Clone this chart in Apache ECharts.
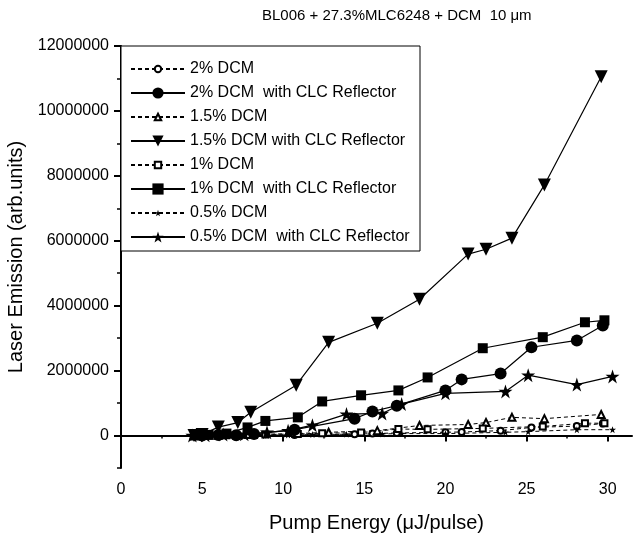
<!DOCTYPE html>
<html>
<head>
<meta charset="utf-8">
<script src="https://cdn.jsdelivr.net/npm/echarts@6/dist/echarts.min.js"></script>
<style>html,body{margin:0;padding:0;background:#fff}#c{width:639px;height:534px}</style>
</head>
<body>
<div id="c"></div>
<script>
// ---- data ----
const titleText = 'BL006 + 27.3%MLC6248 + DCM  10 \u03bcm';
const xName = 'Pump Energy (\u03bcJ/pulse)';
const yName = 'Laser Emission (arb.units)';
const xTickValues = [0, 5, 10, 15, 20, 25, 30];
const xMinorTickValues = [2.5, 7.5, 12.5, 17.5, 22.5, 27.5];
const yTickValues = [0, 2000000, 4000000, 6000000, 8000000, 10000000, 12000000];
const yMinorTickValues = [-1000000, 1000000, 3000000, 5000000, 7000000, 9000000, 11000000];

const names = ['2% DCM', '2% DCM  with CLC Reflector', '1.5% DCM', '1.5% DCM with CLC Reflector',
  '1% DCM', '1% DCM  with CLC Reflector', '0.5% DCM', '0.5% DCM  with CLC Reflector'];

// 2% DCM
const x2 = [5.0, 6.0, 7.1, 8.2, 10.7, 14.4, 15.5, 17.0, 20.0, 21.0, 23.4, 25.3, 28.1, 29.7];
const y2 = [0, 0, 10000, 10000, 20000, 40000, 60000, 80000, 100000, 110000, 150000, 250000, 290000, 370000];
const y2clc = [0, 20000, 10000, 50000, 180000, 520000, 740000, 920000, 1390000, 1730000, 1910000, 2720000, 2930000, 3390000];
// 1.5% DCM
const x15 = [4.5, 5.0, 6.0, 7.2, 8.0, 10.8, 12.8, 15.8, 18.4, 21.4, 22.5, 24.1, 26.1, 29.6];
const y15 = [0, 0, 10000, 20000, 30000, 60000, 100000, 150000, 310000, 340000, 400000, 560000, 520000, 650000];
const y15clc = [0, 30000, 260000, 400000, 720000, 1550000, 2870000, 3460000, 4200000, 5590000, 5740000, 6080000, 7720000, 11050000];
// 1% DCM
const x1 = [4.6, 5.4, 6.5, 7.8, 8.9, 10.9, 12.4, 14.8, 17.1, 18.9, 22.3, 26.0, 28.6, 29.8];
const y1 = [0, 0, 10000, 20000, 30000, 50000, 70000, 90000, 200000, 190000, 220000, 280000, 380000, 380000];
const y1clc = [0, 20000, 60000, 250000, 450000, 560000, 1050000, 1240000, 1390000, 1790000, 2690000, 3030000, 3490000, 3550000];
// 0.5% DCM
const x05 = [4.4, 5.2, 6.3, 7.6, 9.0, 10.3, 11.8, 13.9, 16.1, 17.3, 20.0, 23.7, 25.1, 28.1, 30.3];
const y05 = [0, 0, 0, 10000, 10000, 20000, 30000, 40000, 50000, 60000, 60000, 100000, 120000, 180000, 180000];
const y05clc = [0, 10000, 30000, 40000, 100000, 150000, 320000, 660000, 680000, 970000, 1300000, 1360000, 1860000, 1570000, 1820000];

// ---- chart ----
const FONT = 'Liberation Sans, Arial, sans-serif';
const STAR = 'path://M50,0 L61.8,35.3 L99,35.3 L69,57.1 L80.4,92.7 L50,70.6 L19.6,92.7 L31,57.1 L1,35.3 L38.2,35.3 Z';
const TRI_DOWN = 'path://M0,0 L100,0 L50,87 Z';
const zip = (xs, ys) => xs.map((x, i) => [x, ys[i]]);

function dashed(name, xs, ys, symbol, size, filled) {
  return {
    name, type: 'line', data: zip(xs, ys), symbol, symbolSize: size,
    lineStyle: { color: '#000', width: 1, type: [4, 3] },
    itemStyle: filled ? { color: '#000' } : { color: '#000', borderColor: '#000', borderWidth: 1 },
    emphasis: { disabled: true }, z: 2
  };
}
function solid(name, xs, ys, symbol, size) {
  return {
    name, type: 'line', data: zip(xs, ys), symbol, symbolSize: size,
    lineStyle: { color: '#000', width: 1.2 },
    itemStyle: { color: '#000' },
    emphasis: { disabled: true }, z: 3
  };
}

const series = [
  dashed(names[0], x2, y2, 'emptyCircle', 6, false),
  solid(names[1], x2, y2clc, 'circle', 12),
  dashed(names[2], x15, y15, 'emptyTriangle', 7, false),
  solid(names[3], x15, y15clc, TRI_DOWN, 13),
  dashed(names[4], x1, y1, 'emptyRect', 6, false),
  solid(names[5], x1, y1clc, 'rect', 10),
  dashed(names[6], x05, y05, STAR, 7, true),
  solid(names[7], x05, y05clc, STAR, 14)
];

const rowH = [8, 14, 8, 14, 8, 14, 8, 14];
const legends = names.map((n, i) => ({
  data: [n], left: 130, top: 69 + 24 * i - 8, orient: 'vertical',
  itemWidth: 54, itemHeight: rowH[i], padding: 0, z: 5,
  selectedMode: false,
  textStyle: { fontSize: 16, fontFamily: FONT, color: '#000', lineHeight: 16 }
}));

const axisLineStyle = { lineStyle: { color: '#000', width: 2 } };
const option = {
  animation: false,
  backgroundColor: '#fff',
  title: { text: titleText, left: 262, top: 8, padding: 0,
    textStyle: { fontSize: 15, fontWeight: 'normal', fontFamily: FONT, color: '#000' } },
  legend: legends,
  graphic: { elements: [{ type: 'rect', z: 4, shape: { x: 121, y: 46, width: 299, height: 205 },
    style: { fill: '#fff', stroke: '#000', lineWidth: 1 } }] },
  grid: { left: 121, right: 7, top: 46, bottom: 66, containLabel: false, outerBoundsMode: 'none' },
  xAxis: [
    { type: 'value', min: 0, max: 31.5, name: xName, nameLocation: 'middle', nameGap: 45,
      nameTextStyle: { fontSize: 20, fontFamily: FONT, color: '#000' },
      axisLine: axisLineStyle, splitLine: { show: false },
      axisTick: { customValues: xTickValues, length: 6, lineStyle: { color: '#000', width: 2 } },
      axisLabel: { customValues: xTickValues, fontSize: 16, fontFamily: FONT, color: '#000', margin: 14 } },
    { type: 'value', min: 0, max: 31.5, position: 'bottom', show: true,
      axisLine: { show: false }, splitLine: { show: false },
      axisTick: { customValues: xMinorTickValues, length: 3, lineStyle: { color: '#000', width: 1.5 } },
      axisLabel: { show: false } }
  ],
  yAxis: [
    { type: 'value', min: -1000000, max: 12000000, name: yName, nameLocation: 'middle', nameGap: 94,
      nameTextStyle: { fontSize: 20, fontFamily: FONT, color: '#000' },
      axisLine: axisLineStyle, splitLine: { show: false },
      axisTick: { customValues: yTickValues, length: 7, lineStyle: { color: '#000', width: 2 } },
      axisLabel: { customValues: yTickValues, fontSize: 16, fontFamily: FONT, color: '#000', margin: 12,
        formatter: v => String(v) } },
    { type: 'value', min: -1000000, max: 12000000, position: 'left',
      axisLine: { show: false }, splitLine: { show: false },
      axisTick: { customValues: yMinorTickValues, length: 4, lineStyle: { color: '#000', width: 1.5 } },
      axisLabel: { show: false } }
  ],
  series
};
const chart = echarts.init(document.getElementById('c'), null, { renderer: 'canvas' });
chart.setOption(option);
</script>
</body>
</html>
